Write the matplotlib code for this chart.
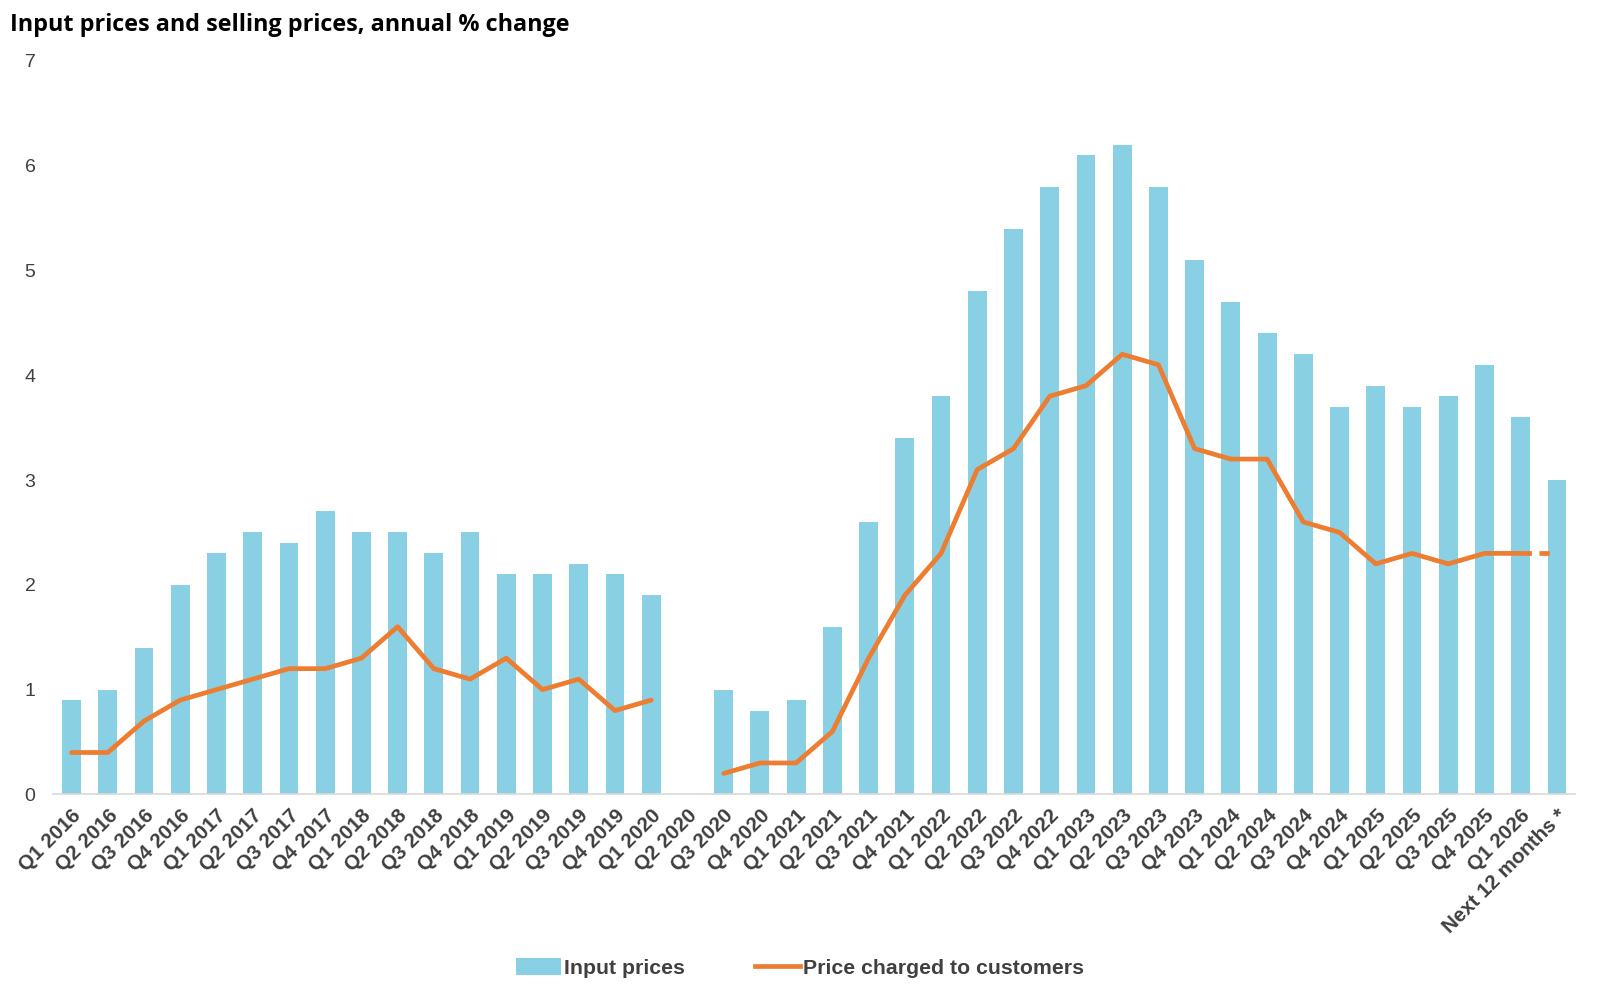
import numpy as np
import matplotlib
matplotlib.use("Agg")
import matplotlib.pyplot as plt
from matplotlib.patches import Patch
from matplotlib.lines import Line2D

plt.rcParams['font.family'] = ['Liberation Sans', 'DejaVu Sans']

categories = []
for y in range(2016, 2026):
    for q in range(1, 5):
        categories.append(f"Q{q} {y}")
categories += ["Q1 2026", "Next 12 months *"]

input_prices = [0.9, 1.0, 1.4, 2.0, 2.3, 2.5, 2.4, 2.7, 2.5, 2.5, 2.3, 2.5,
                2.1, 2.1, 2.2, 2.1, 1.9, np.nan, 1.0, 0.8, 0.9, 1.6, 2.6, 3.4,
                3.8, 4.8, 5.4, 5.8, 6.1, 6.2, 5.8, 5.1, 4.7, 4.4, 4.2, 3.7,
                3.9, 3.7, 3.8, 4.1, 3.6, 3.0]
price_charged = [0.4, 0.4, 0.7, 0.9, 1.0, 1.1, 1.2, 1.2, 1.3, 1.6, 1.2, 1.1,
                 1.3, 1.0, 1.1, 0.8, 0.9, np.nan, 0.2, 0.3, 0.3, 0.6, 1.3, 1.9,
                 2.3, 3.1, 3.3, 3.8, 3.9, 4.2, 4.1, 3.3, 3.2, 3.2, 2.6, 2.5,
                 2.2, 2.3, 2.2, 2.3, 2.3, 2.3]

bar_color = "#89D0E4"
line_color = "#ED7D31"
text_color = "#404040"

fig = plt.figure(figsize=(16, 9.98), dpi=100)
ax = fig.add_axes([0.0334, 0.204, 0.951, 0.735])

x = np.arange(len(categories))
ax.bar(x, input_prices, width=0.52, color=bar_color, zorder=2)

pc = np.array(price_charged, dtype=float)
n = len(categories)
ax.plot(x[:n - 1], pc[:n - 1], color=line_color, lw=3.4, solid_capstyle='round',
        solid_joinstyle='round', zorder=3)
ax.plot(x[n - 2:], pc[n - 2:], color=line_color, lw=3.4, linestyle=(0, (2.2, 1.6)),
        zorder=3)

ax.set_xlim(-0.5, n - 0.5)
ax.set_ylim(0, 7)
ax.set_yticks(range(0, 8))
ax.tick_params(axis='y', length=0, labelsize=14, colors=text_color, pad=13)
ax.tick_params(axis='x', length=0, pad=8)
ax.set_xticks(x)
ax.set_xticklabels(categories, rotation=45, ha='right', rotation_mode='anchor',
                   fontsize=14.8, fontweight='bold', color=text_color)

for s in ['top', 'right', 'left']:
    ax.spines[s].set_visible(False)
ax.spines['bottom'].set_color('#D9D9D9')
ax.spines['bottom'].set_linewidth(1.2)

fig.text(0.006, 0.975, "Input prices and selling prices, annual % change",
         fontsize=16.8, fontweight='bold', family=['Open Sans', 'DejaVu Sans'],
         va='center', ha='left', color='black')

handles = [Patch(facecolor=bar_color, edgecolor='none'),
           Line2D([0], [0], color=line_color, lw=3.4)]
leg = fig.legend(handles, ["Input prices", "Price charged to customers"],
                 loc='center', bbox_to_anchor=(0.50, 0.030), ncol=2, frameon=False,
                 handlelength=2.1, handleheight=0.85, handletextpad=0.15,
                 columnspacing=3.3,
                 prop={'size': 15.3, 'weight': 'bold'})
for t in leg.get_texts():
    t.set_color(text_color)

fig.savefig("out.png", dpi=100, facecolor='white')
